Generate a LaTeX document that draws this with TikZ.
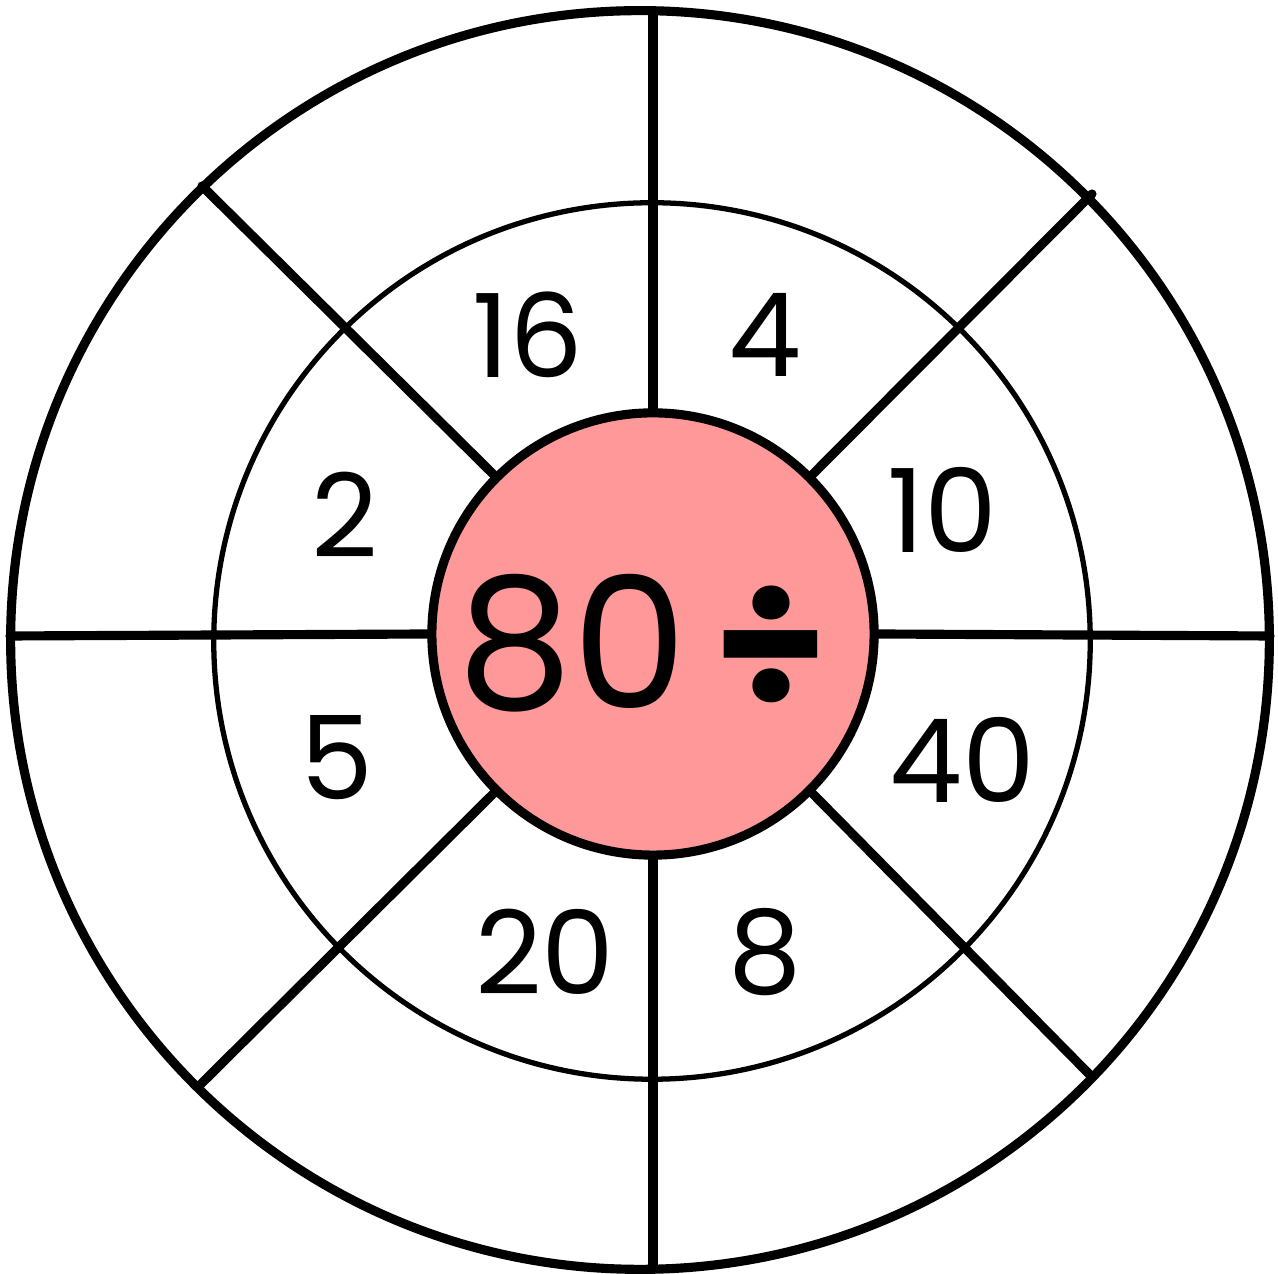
\documentclass[tikz,border=0pt]{standalone}
\usepackage{fontspec}
\setmainfont{Poppins}
\usepackage{tikz}
\usetikzlibrary{positioning}

\definecolor{hubpink}{RGB}{255,153,153}

\begin{document}
\begin{tikzpicture}[
  x=0.01cm, y=-0.01cm,
  rim/.style={line width=2.6pt},
  ring/.style={line width=1.5pt},
  spoke/.style={line width=2.6pt, line cap=round},
  hub/.style={circle, draw, line width=2.6pt, fill=hubpink, minimum size=4.42cm, inner sep=0pt},
  num/.style={inner sep=0pt, font=\fontsize{33}{38}\selectfont}
]
\useasboundingbox (0,0) rectangle (1278,1274);

% wheel
\draw[ring] (652,641) circle [radius=4.38cm];

\coordinate (top)   at (653,12);
\coordinate (bot)   at (653,1268);
\coordinate (lft)   at (10,636);
\coordinate (rgt)   at (1270,636);
\coordinate (tl)    at (202,186);
\coordinate (tr)    at (1092,194);
\coordinate (bl)    at (200,1085);
\coordinate (br)    at (1092,1077);

\node[hub] (centre) at (653,634) {};

\draw[spoke] (centre.north) -- (top);
\draw[spoke] (centre.south) -- (bot);
\draw[spoke] (centre.west) -- (lft);
\draw[spoke] (centre.east) -- (rgt);
\draw[spoke] (centre.north west) -- (tl);
\draw[spoke] (centre.north east) -- (tr);
\draw[spoke] (centre.south west) -- (bl);
\draw[spoke] (centre.south east) -- (br);

\draw[rim] (640,640) circle [radius=6.29cm];

\node[inner sep=0pt, font=\fontsize{52}{58}\selectfont] (task) at (642,643) {80\hspace{0.15em}{\bfseries ÷}};

% divisors
\node[num] (d16) at (528,335) {16};
\node[num] (d4)  at (765,335) {4};
\node[num] (d2)  at (345,515) {2};
\node[num] (d10) at (942,510) {10};
\node[num] (d5)  at (337,758) {5};
\node[num] (d40) at (962,760) {40};
\node[num] (d20) at (545,952) {20};
\node[num] (d8)  at (765,952) {8};
\end{tikzpicture}
\end{document}
